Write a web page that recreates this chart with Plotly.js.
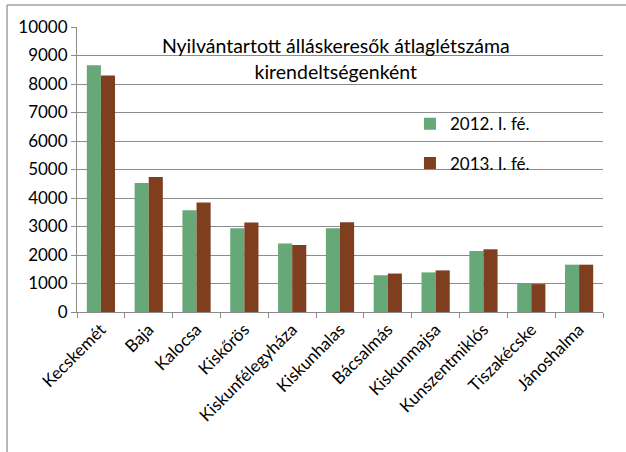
<!DOCTYPE html>
<html>
<head>
<meta charset="utf-8">
<script src="https://cdn.plot.ly/plotly-3.0.1.min.js"></script>
<style>
  body { margin: 0; background: #fff; }
  #chart { width: 626px; height: 452px; }
</style>
</head>
<body>
<div id="chart"></div>
<script>
var categories = [
  "Kecskemét", "Baja", "Kalocsa", "Kiskőrös", "Kiskunfélegyháza",
  "Kiskunhalas", "Bácsalmás", "Kiskunmajsa", "Kunszentmiklós",
  "Tiszakécske", "Jánoshalma"
];
var values2012 = [8660, 4530, 3570, 2940, 2400, 2940, 1290, 1390, 2140, 1000, 1660];
var values2013 = [8300, 4740, 3840, 3140, 2350, 3150, 1350, 1460, 2200, 980, 1660];
var yTicks = [0, 1000, 2000, 3000, 4000, 5000, 6000, 7000, 8000, 9000, 10000];

var fontFam = "Lato, 'Open Sans', sans-serif";

var trace1 = {
  x: categories,
  y: values2012,
  name: "2012. I. fé.",
  type: "bar",
  legendgroup: "a",
  marker: { color: "#66a877" },
};

var trace2 = {
  x: categories,
  y: values2013,
  name: "2013. I. fé.",
  type: "bar",
  legendgroup: "b",
  marker: { color: "#7f3f1f" },
};

var layout = {
  width: 626,
  height: 452,
  margin: { l: 77, r: 23, t: 27, b: 140 },
  paper_bgcolor: "#ffffff",
  plot_bgcolor: "#ffffff",
  font: { family: fontFam, size: 17, color: "#000000" },
  barmode: "group",
  bargap: 0.41,
  bargroupgap: 0,
  title: {
    text: "Nyilvántartott álláskeresők átlaglétszáma<br>kirendeltségenként",
    font: { family: fontFam, size: 19.5, color: "#000000" },
    xref: "paper",
    x: 0.492,
    xanchor: "center",
    yref: "container",
    y: 0.882,
    yanchor: "middle",
  },
  xaxis: {
    type: "category",
    tickangle: -45,
    tickson: "boundaries",
    ticks: "outside",
    ticklen: 5,
    tickcolor: "#8c8c8c",
    showline: true,
    linecolor: "#8c8c8c",
    linewidth: 1,
    showgrid: false,
    tickfont: { family: fontFam, size: 17 },
  },
  yaxis: {
    range: [0, 10000],
    tickvals: yTicks,
    tickformat: "d",
    ticks: "outside",
    ticklen: 5,
    tickcolor: "#8c8c8c",
    showline: true,
    linecolor: "#8c8c8c",
    gridcolor: "#8c8c8c",
    gridwidth: 1,
    zeroline: false,
    tickfont: { family: fontFam, size: 17 },
  },
  showlegend: true,
  legend: {
    x: 0.633,
    xanchor: "left",
    y: 0.722,
    yanchor: "top",
    traceorder: "grouped",
    tracegroupgap: 14,
    bgcolor: "rgba(0,0,0,0)",
    font: { family: fontFam, size: 17 },
  },
  shapes: [
    {
      type: "line", xref: "paper", yref: "paper",
      x0: -0.133, x1: 1.05, y0: 1.077, y1: 1.077,
      line: { color: "#a0a0a0", width: 1.5 },
    },
    {
      type: "line", xref: "paper", yref: "paper",
      x0: -0.133, x1: -0.133, y0: 1.077, y1: -0.5,
      line: { color: "#a0a0a0", width: 1.5 },
    },
  ],
};

Plotly.newPlot("chart", [trace1, trace2], layout, { displayModeBar: false });
</script>
</body>
</html>
